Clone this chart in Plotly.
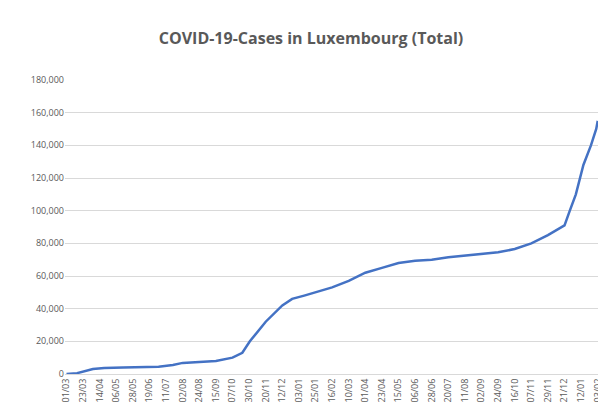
import plotly.graph_objects as go
import pandas as pd

dates = ["2020-03-01", "2020-03-15", "2020-04-05", "2020-04-20", "2020-05-15", "2020-06-15",
         "2020-07-01", "2020-07-20", "2020-08-02", "2020-08-24", "2020-09-15", "2020-10-07",
         "2020-10-20", "2020-10-30", "2020-11-20", "2020-12-12", "2020-12-25", "2021-01-10",
         "2021-01-25", "2021-02-16", "2021-03-10", "2021-04-01", "2021-04-23", "2021-05-15",
         "2021-06-06", "2021-06-28", "2021-07-20", "2021-08-11", "2021-09-02", "2021-09-24",
         "2021-10-16", "2021-11-07", "2021-11-29", "2021-12-21", "2021-12-28", "2022-01-05",
         "2022-01-15", "2022-01-25", "2022-02-01", "2022-02-03"]
cases = [0, 500, 3000, 3700, 3950, 4100, 4500, 5500, 6800, 7300, 8000, 10000,
         13000, 20000, 32000, 42000, 46000, 48000, 50000, 53000, 57000, 62000, 65000, 68000,
         69300, 70000, 71500, 72500, 73500, 74500, 76500, 80000, 85000, 91000, 100000, 110000,
         128000, 140000, 150000, 155000]
tick_labels = ["01/03", "23/03", "14/04", "06/05", "28/05", "19/06", "11/07", "02/08", "24/08",
               "15/09", "07/10", "30/10", "20/11", "12/12", "03/01", "25/01", "16/02", "10/03",
               "01/04", "23/04", "15/05", "06/06", "28/06", "20/07", "11/08", "02/09", "24/09",
               "16/10", "07/11", "29/11", "21/12", "12/01", "03/02"]

tick_vals = pd.date_range("2020-03-01", periods=len(tick_labels), freq="22D")

fig = go.Figure(go.Scatter(x=pd.to_datetime(dates), y=cases, mode="lines",
                           line=dict(color="#4472C4", width=2.5)))
fig.update_layout(
    width=606, height=411, template=None, showlegend=False,
    plot_bgcolor="white", paper_bgcolor="white",
    margin=dict(l=57, r=14, t=72, b=45, autoexpand=False),
    font=dict(family="Open Sans, sans-serif", color="#595959", size=9),
    title=dict(text="<b>COVID-19-Cases in Luxembourg (Total)</b>", x=0.5, y=0.94,
               xanchor="center", font=dict(size=16, color="#595959")),
)
fig.update_xaxes(range=[tick_vals[0] - pd.Timedelta(days=2), tick_vals[-1] + pd.Timedelta(days=3)],
                 tickvals=tick_vals, ticktext=tick_labels,
                 tickangle=-90, showgrid=False, showline=True, linecolor="#d9d9d9",
                 ticks="", tickfont=dict(size=9))
fig.update_yaxes(range=[0, 180000], dtick=20000, tickformat=",", showgrid=True,
                 gridcolor="#d9d9d9", zeroline=False, ticks="", tickfont=dict(size=9))

fig.write_html("out.html")
